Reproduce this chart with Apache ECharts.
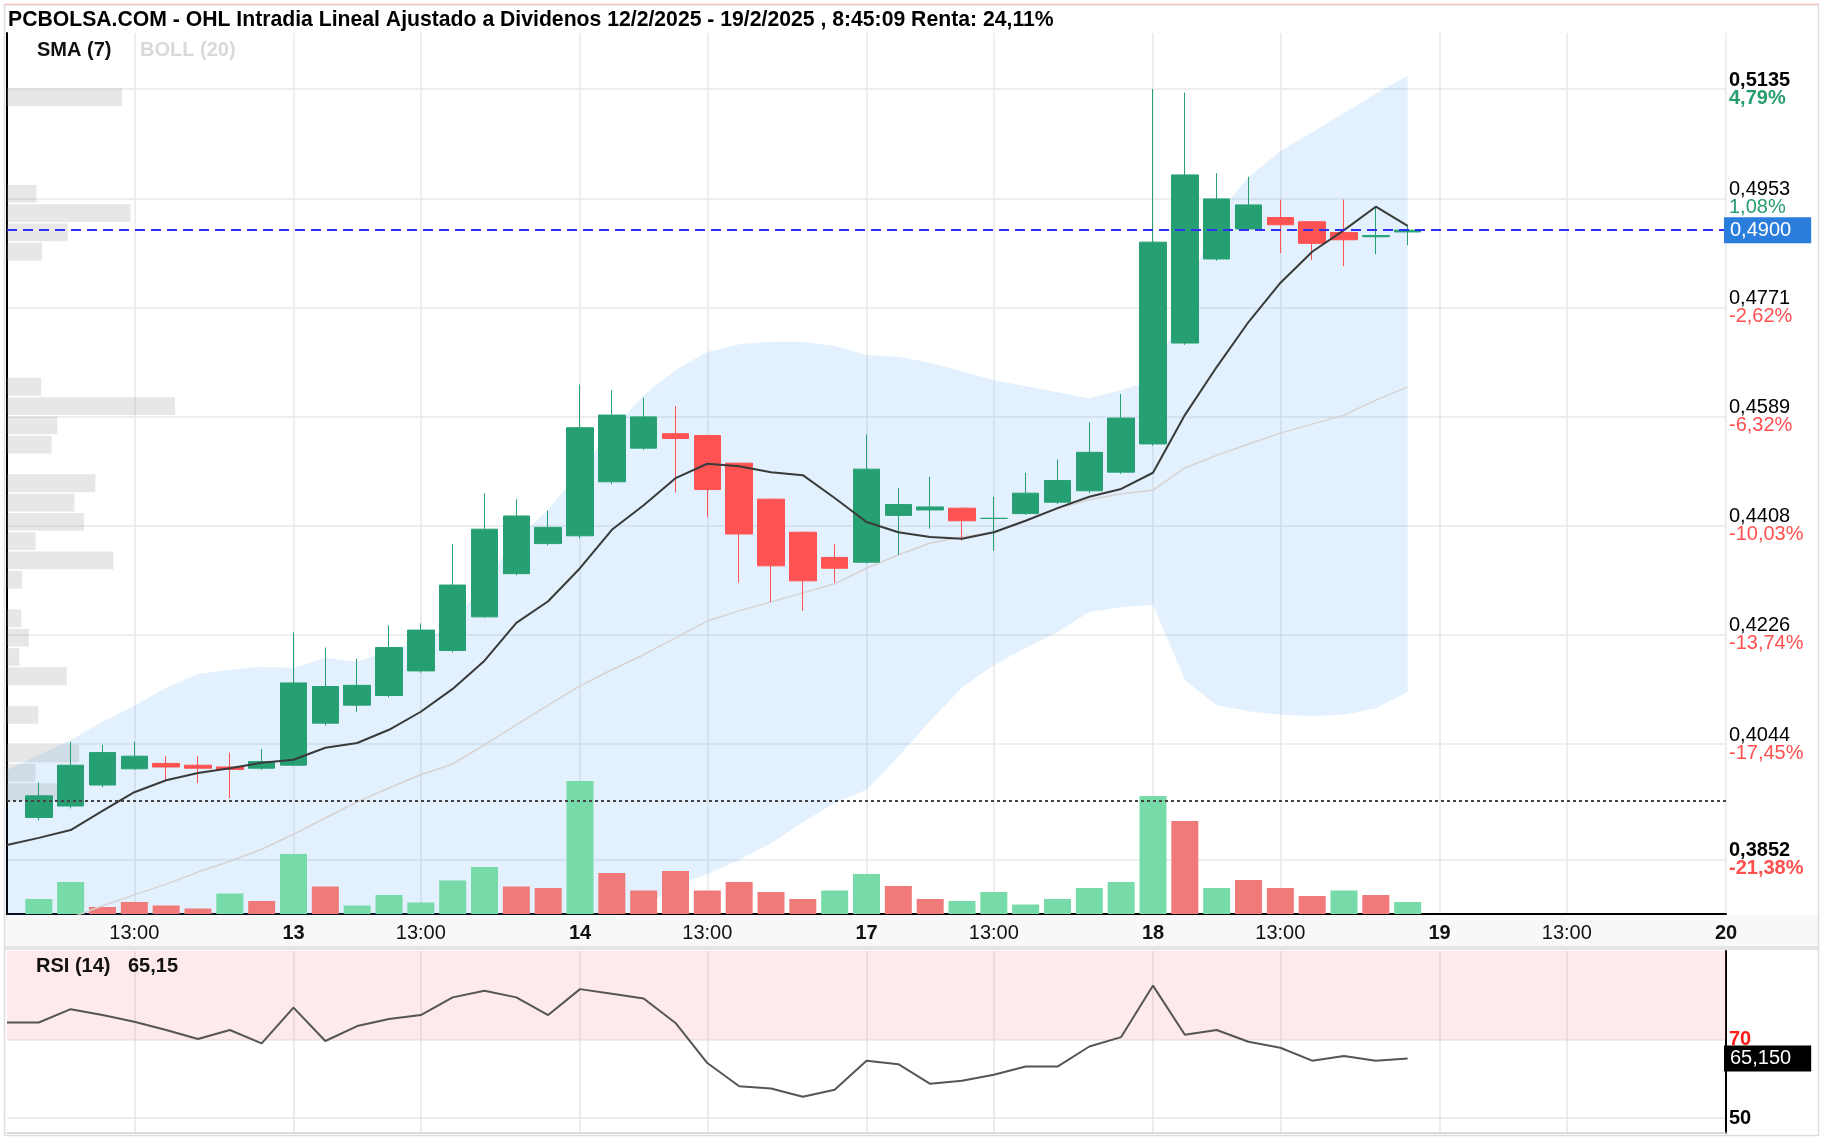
<!DOCTYPE html>
<html><head><meta charset="utf-8">
<script src="https://cdn.jsdelivr.net/npm/echarts@6/dist/echarts.min.js"></script>
<style>html,body{margin:0;padding:0;background:#fff}#c{width:1823px;height:1140px}</style>
</head><body><div id="c"></div>
<script>
// ---------- DATA ----------
const titleText = 'PCBOLSA.COM - OHL Intradia Lineal Ajustado a Dividenos 12/2/2025 - 19/2/2025 , 8:45:09 Renta: 24,11%';
const days = ['12','13','14','17','18','19','20'];
const hours = ['9:00','10:00','11:00','12:00','13:00','14:00','15:00','16:00','17:00'];

const opens  = [null,0.3922,0.3941,0.3976,0.4003,0.4012,0.4009,0.4006,0.4004,0.4009,0.4079,0.4109,0.4125,0.4166,0.4200,0.4256,0.4328,0.4378,0.4391,0.4481,0.4537,0.4561,0.4558,0.4512,0.4452,0.4397,0.4355,0.4347,0.4425,0.4434,0.4437,0.4420,0.4428,0.4447,0.4466,0.4497,0.4544,0.4712,0.4852,0.4902,0.4921,0.4914,0.4896,0.4889,0.4897];
const closes = [null,0.3958,0.4009,0.4030,0.4024,0.4006,0.4004,0.4002,0.4015,0.4146,0.4140,0.4142,0.4205,0.4234,0.4309,0.4402,0.4424,0.4405,0.4571,0.4592,0.4589,0.4553,0.4468,0.4394,0.4341,0.4316,0.4337,0.4502,0.4443,0.4439,0.4416,0.4420,0.4462,0.4483,0.4530,0.4587,0.4880,0.4992,0.4952,0.4942,0.4909,0.4878,0.4884,0.4891,0.4900];
const lows   = [null,0.3917,0.3937,0.3972,0.4001,0.3984,0.3979,0.3954,0.4001,0.4008,0.4075,0.4098,0.4122,0.4163,0.4197,0.4254,0.4325,0.4375,0.4387,0.4477,0.4534,0.4463,0.4422,0.4313,0.4281,0.4266,0.4313,0.4345,0.4359,0.4403,0.4383,0.4366,0.4426,0.4444,0.4462,0.4494,0.4541,0.4709,0.4849,0.4900,0.4862,0.4850,0.4840,0.4860,0.4875];
const highs  = [null,0.3980,0.4048,0.4043,0.4048,0.4024,0.4024,0.4030,0.4036,0.4230,0.4205,0.4186,0.4242,0.4245,0.4377,0.4462,0.4452,0.4433,0.4643,0.4633,0.4621,0.4607,0.4559,0.4513,0.4453,0.4398,0.4377,0.4560,0.4471,0.4489,0.4438,0.4456,0.4496,0.4518,0.4580,0.4627,0.5135,0.5129,0.4995,0.4989,0.4951,0.4915,0.4951,0.4939,0.4907];

const volumes = [null,150,320,70,120,85,55,205,130,600,275,85,190,115,335,470,275,260,1330,410,235,430,235,320,220,150,235,400,280,150,130,220,95,150,260,320,1180,930,260,340,260,180,235,190,120];
const volDir  = [0,1,1,-1,-1,-1,-1,1,-1,1,-1,1,1,1,1,1,-1,-1,1,-1,-1,-1,-1,-1,-1,-1,1,1,-1,-1,1,1,1,1,1,1,1,-1,1,-1,-1,-1,1,-1,1];

const sma7 = [0.3876,0.3888,0.3901,0.3933,0.3964,0.3984,0.3996,0.4004,0.4013,0.4018,0.4038,0.4046,0.4068,0.4098,0.4136,0.4183,0.4246,0.4282,0.4337,0.4401,0.4442,0.4487,0.4511,0.4507,0.4497,0.4492,0.4454,0.4414,0.4397,0.4389,0.4386,0.4397,0.4416,0.4437,0.4456,0.4469,0.4496,0.4592,0.4672,0.4747,0.4812,0.4864,0.4900,0.4939,0.4907];
const bbUpper = [0.4001,0.4026,0.4051,0.4081,0.4108,0.4138,0.4161,0.4168,0.4173,0.4171,0.4188,0.4181,0.4201,0.4214,0.4242,0.4317,0.4384,0.4434,0.4500,0.4567,0.4625,0.4667,0.4697,0.4710,0.4714,0.4714,0.4707,0.4692,0.4689,0.4679,0.4665,0.4650,0.4640,0.4630,0.4620,0.4634,0.4650,0.4784,0.4925,0.4988,0.5032,0.5063,0.5095,0.5127,0.5157];
const bbMid   = [0.3716,0.3736,0.3755,0.3775,0.3793,0.3811,0.3831,0.3849,0.3869,0.3894,0.3921,0.3948,0.3971,0.3993,0.4011,0.4043,0.4076,0.4109,0.4141,0.4168,0.4193,0.4221,0.4249,0.4266,0.4281,0.4296,0.4311,0.4337,0.4359,0.4379,0.4389,0.4397,0.4417,0.4436,0.4451,0.4461,0.4467,0.4504,0.4525,0.4544,0.4562,0.4577,0.4592,0.4617,0.4639];
const bbLower = [0.3432,0.3446,0.3458,0.3468,0.3478,0.3485,0.3501,0.3531,0.3566,0.3618,0.3655,0.3715,0.3741,0.3755,0.3756,0.3757,0.3758,0.3759,0.3758,0.3757,0.3771,0.3808,0.3828,0.3851,0.3879,0.3914,0.3946,0.3968,0.4023,0.4083,0.4138,0.4176,0.4204,0.4231,0.4264,0.4272,0.4276,0.4151,0.4109,0.4099,0.4093,0.4091,0.4093,0.4104,0.4131];

const rsi = [74.3,74.3,77.7,76.2,74.5,72.4,70.1,72.4,69.0,78.1,69.6,73.4,75.2,76.2,80.7,82.4,80.7,76.2,82.8,81.6,80.4,74.2,64.0,58.1,57.5,55.4,57.2,64.6,63.7,58.7,59.5,61.0,63.1,63.1,68.2,70.6,83.7,71.2,72.4,69.4,67.9,64.6,65.8,64.6,65.15];

// volume profile by price bin (bin 0 at the top)
const profileTop = 0.5137;
const profileBin = 0.003214;
const profileVol = [1210,0,0,0,0,310,1300,640,370,0,0,0,0,0,0,360,1770,530,470,0,930,710,810,300,1120,160,0,150,230,130,630,0,330,0,760,300,530,0];

const priceTicks = [0.3852,0.4044,0.4226,0.4408,0.4589,0.4771,0.4953,0.5135];
const pctLabels  = ['-21,38%','-17,45%','-13,74%','-10,03%','-6,32%','-2,62%','1,08%','4,79%'];
const rsiTicks = [50,70];
const rsiMin = 46.2, rsiMax = 92.5;
const lastPrice = 0.4900;
const refPrice = 0.3950;
const rsiLast = 65.15;

// ---------- CHART ----------
const FONT = "'Liberation Sans', Arial, Helvetica, sans-serif";
const GREEN='#26a073', RED='#ff5252', VGREEN='#76dba8', VRED='#f07a7a', PG='#269d6e', PR='#ff4f4f';

const categories = [];
for (let d = 0; d < days.length - 1; d++) for (const h of hours) categories.push(days[d] + ' ' + h);
categories.push(days[days.length - 1] + ' ' + hours[0]);

function isTick(idx, val) {
  const h = String(val).split(' ')[1];
  return idx > 0 && (h === hours[0] || h === '13:00');
}
const comma = (v, n) => v.toFixed(n).replace('.', ',');

const candleData = opens.map((o, i) => o == null ? ['-','-','-','-'] : [o, closes[i], lows[i], highs[i]]);
const volData = volumes.map((v, i) => v == null ? '-' : {value: v, itemStyle: {color: volDir[i] > 0 ? VGREEN : VRED}});
const bandData = bbUpper.map((u, i) => +(u - bbLower[i]).toFixed(5));
const profData = profileVol.map((v, k) => [v, profileTop - k * profileBin, profileTop - (k + 1) * profileBin]);

const chart = echarts.init(document.getElementById('c'), null, {renderer: 'canvas'});
const txt = (s) => ({fontFamily: FONT, fontSize: 20, ...s});

chart.setOption({
  animation: false,
  backgroundColor: '#fff',
  textStyle: {fontFamily: FONT},
  grid: [
    {left: 7, top: 33, width: 1719, height: 881},
    {left: 7, top: 951, width: 1719, height: 182}
  ],
  xAxis: [
    {type: 'category', gridIndex: 0, data: categories, boundaryGap: false,
     axisLine: {lineStyle: {color: '#000', width: 2}}, axisTick: {show: false},
     axisLabel: {interval: isTick, margin: 9,
       formatter: (val) => { const p = val.split(' '); return p[1] === hours[0] ? '{d|' + p[0] + '}' : '{h|' + p[1] + '}'; },
       rich: {d: txt({fontWeight: 'bold', color: '#111'}), h: txt({color: '#111'})}},
     splitLine: {show: true, interval: isTick, lineStyle: {color: '#e9e9e9', width: 1.5}}},
    {type: 'value', gridIndex: 0, min: 0, max: 18100, show: false},
    {type: 'category', gridIndex: 1, data: categories, boundaryGap: false,
     axisLine: {lineStyle: {color: '#cfcfcf', width: 1.5}}, axisTick: {show: false}, axisLabel: {show: false},
     splitLine: {show: true, interval: isTick, lineStyle: {color: '#e6e6e6', width: 1.5}}}
  ],
  yAxis: [
    {type: 'value', gridIndex: 0, position: 'right', min: 0.37612, max: 0.52283, scale: true,
     axisLine: {show: true, lineStyle: {color: '#000', width: 2}},
     axisTick: {show: false, customValues: priceTicks},
     axisLabel: {customValues: priceTicks, margin: 3,
       formatter: (v) => {
         let i = priceTicks.findIndex(t => Math.abs(t - v) < 1e-6);
         if (i < 0) return '';
         const bold = (i === 0 || i === priceTicks.length - 1);
         const pos = pctLabels[i][0] !== '-';
         const pk = bold ? 'pb' : 'p';
         const ck = (pos ? 'g' : 'r') + (bold ? 'b' : '');
         return '{' + pk + '|' + comma(priceTicks[i], 4) + '}\n{' + ck + '|' + pctLabels[i] + '}';
       },
       rich: {
         p: txt({color: '#000', lineHeight: 18}), pb: txt({color: '#000', fontWeight: 'bold', lineHeight: 18}),
         g: txt({color: PG, lineHeight: 18}), gb: txt({color: PG, fontWeight: 'bold', lineHeight: 18}),
         r: txt({color: PR, lineHeight: 18}), rb: txt({color: PR, fontWeight: 'bold', lineHeight: 18})
       }},
     splitLine: {show: true, lineStyle: {color: '#e9e9e9', width: 1.5}}},
    {type: 'value', gridIndex: 1, position: 'right', min: rsiMin, max: rsiMax,
     axisLine: {show: true, lineStyle: {color: '#000', width: 2}},
     axisTick: {show: false, customValues: rsiTicks},
     axisLabel: {customValues: rsiTicks, margin: 3,
       formatter: (v) => v === 70 ? '{r|70}' : '{k|' + v + '}',
       rich: {r: txt({color: '#ff1a1a', fontWeight: 'bold'}), k: txt({color: '#000', fontWeight: 'bold'})}},
     splitLine: {show: true, lineStyle: {color: '#e6e6e6', width: 1.5}}},
    {type: 'value', gridIndex: 0, min: 0, max: 8810, show: false}
  ],
  series: [
    {name: 'bbLow', type: 'line', xAxisIndex: 0, yAxisIndex: 0, data: bbLower, stack: 'bb', symbol: 'none',
     lineStyle: {opacity: 0}, silent: true, z: 1},
    {name: 'bbBand', type: 'line', xAxisIndex: 0, yAxisIndex: 0, data: bandData, stack: 'bb', symbol: 'none',
     lineStyle: {opacity: 0}, areaStyle: {color: 'rgba(33,150,243,0.13)', opacity: 1}, silent: true, z: 1},
    {name: 'profile', type: 'custom', xAxisIndex: 1, yAxisIndex: 0, data: profData, silent: true, z: 2,
     encode: {x: 0, y: [1, 2]},
     renderItem: (params, api) => {
       const v = api.value(0);
       if (!v) return null;
       const a = api.coord([0, api.value(1)]);
       const b = api.coord([v, api.value(2)]);
       return {type: 'rect', shape: {x: a[0], y: a[1] + 0.5, width: b[0] - a[0], height: b[1] - a[1] - 1.5},
               style: {fill: 'rgba(150,150,150,0.23)'}};
     }},
    {name: 'vol', type: 'bar', xAxisIndex: 0, yAxisIndex: 2, data: volData, barWidth: 27, silent: true, z: 3},
    {name: 'bbMid', type: 'line', xAxisIndex: 0, yAxisIndex: 0, data: bbMid, symbol: 'none',
     lineStyle: {color: '#d8d2d2', width: 1.5}, silent: true, z: 3},
    {name: 'ohl', type: 'candlestick', xAxisIndex: 0, yAxisIndex: 0, data: candleData, barWidth: 27, z: 4,
     itemStyle: {color: GREEN, color0: RED, borderColor: GREEN, borderColor0: RED, borderWidth: 1},
     markLine: {symbol: ['none', 'none'], silent: true, animation: false, precision: 4, z: 6,
       data: [
         {yAxis: lastPrice, lineStyle: {color: '#3030f2', type: [10, 6], width: 2},
          label: {show: true, position: 'end', distance: -2, formatter: comma(lastPrice, 4), color: '#fff',
                  backgroundColor: '#2a7ddb', fontFamily: FONT, fontSize: 20, lineHeight: 20, padding: [3, 20, 3, 6]}},
         {yAxis: refPrice, lineStyle: {color: '#444', type: [3, 3], width: 2}, label: {show: false}}
       ]}},
    {name: 'sma', type: 'line', xAxisIndex: 0, yAxisIndex: 0, data: sma7, symbol: 'none',
     lineStyle: {color: '#3a3a3a', width: 2}, silent: true, z: 5},
    {name: 'rsi', type: 'line', xAxisIndex: 2, yAxisIndex: 1, data: rsi, symbol: 'none',
     lineStyle: {color: '#555', width: 2}, silent: true, z: 5,
     markArea: {silent: true, itemStyle: {color: 'rgba(250,120,130,0.16)'}, data: [[{yAxis: 70}, {yAxis: rsiMax}]]},
     markLine: {symbol: ['none', 'none'], silent: true, animation: false, precision: 3,
       data: [{yAxis: rsiLast, lineStyle: {color: 'rgba(0,0,0,0)', width: 1},
         label: {show: true, position: 'end', distance: -2, formatter: comma(rsiLast, 3), color: '#fff',
                 backgroundColor: '#000', fontFamily: FONT, fontSize: 20, lineHeight: 20, padding: [3, 20, 3, 6]}}]}}
  ],
  graphic: [
    {type: 'rect', z: -10, silent: true, shape: {x: 5, y: 915, width: 1813, height: 31}, style: {fill: '#f8f8f8'}},
    {type: 'rect', z: -10, silent: true, shape: {x: 5, y: 946, width: 1813, height: 4}, style: {fill: '#e4e4e4'}},
    {type: 'rect', z: 100, silent: true, shape: {x: 4.5, y: 4.5, width: 1814, height: 1131}, style: {fill: 'none', stroke: '#dddddd', lineWidth: 1.5}},
    {type: 'line', z: 101, silent: true, shape: {x1: 4.5, y1: 4.5, x2: 1818.5, y2: 4.5}, style: {stroke: '#f0c4c4', lineWidth: 1.5}},
    {type: 'text', z: 100, silent: true, style: {x: 8, y: 20, text: titleText, font: 'bold 21.2px ' + FONT, fill: '#000', verticalAlign: 'middle'}},
    {type: 'text', z: 100, silent: true, style: {x: 37, y: 50, text: 'SMA (7)', font: 'bold 20px ' + FONT, fill: '#111', verticalAlign: 'middle'}},
    {type: 'text', z: 100, silent: true, style: {x: 140, y: 50, text: 'BOLL (20)', font: 'bold 20px ' + FONT, fill: '#d9d9d9', verticalAlign: 'middle'}},
    {type: 'text', z: 100, silent: true, style: {x: 36, y: 966, text: 'RSI (14)', font: 'bold 20px ' + FONT, fill: '#111', verticalAlign: 'middle'}},
    {type: 'text', z: 100, silent: true, style: {x: 128, y: 966, text: comma(rsiLast, 2), font: 'bold 20px ' + FONT, fill: '#111', verticalAlign: 'middle'}}
  ]
});
</script>
</body></html>
